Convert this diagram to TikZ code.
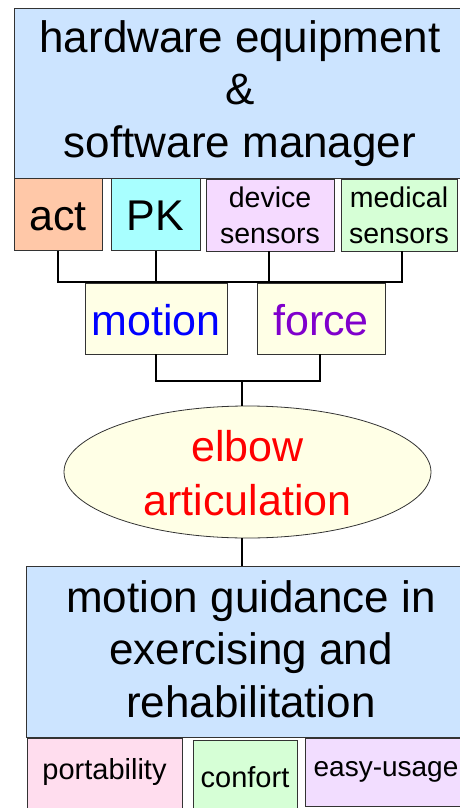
\documentclass[tikz,border=0pt]{standalone}
\usepackage{fontspec}
\setmainfont{Liberation Sans}
\usetikzlibrary{shapes.geometric}
\definecolor{panelblue}{HTML}{CCE4FF}
\definecolor{actfill}{HTML}{FFC8A8}
\definecolor{pkfill}{HTML}{A8FFFF}
\definecolor{lilac}{HTML}{F5DAFF}
\definecolor{mint}{HTML}{D6FFD6}
\definecolor{cream}{HTML}{FFFFE6}
\definecolor{pinkfill}{HTML}{FFDDEE}
\definecolor{easyfill}{HTML}{F2DDFF}
\definecolor{forcepurple}{HTML}{8000CC}
\begin{document}
\begin{tikzpicture}[x=1pt,y=-1pt,
  box/.style={draw=black!80, line width=0.8pt, rectangle, inner sep=0pt},
  wire/.style={line width=2pt, black},
  txt/.style={inner sep=0pt, anchor=base, align=center},
  big/.style={font=\fontsize{44}{52.5}\selectfont},
  mid/.style={font=\fontsize{43}{54}\selectfont},
  small/.style={font=\fontsize{28.5}{36}\selectfont},
]
\useasboundingbox (0,0) rectangle (460,808);

% top panel and its four components (text nodes sit on their last baseline)
\node[box, fill=panelblue, minimum width=452pt, minimum height=170pt] (hw) at (240,93) {};
\node[txt, big] (hwtext) at (240,157) {hardware equipment\\\&\\software manager};

\node[box, fill=actfill, minimum width=88pt, minimum height=72pt] (act) at (58,214.5) {};
\node[txt, mid] (acttext) at (act |- 0,230) {act};
\node[box, fill=pkfill, minimum width=89pt, minimum height=72pt] (pk) at (155.5,214.5) {};
\node[txt, mid] (pktext) at (pk |- 0,230) {PK};
\node[box, fill=lilac, minimum width=128pt, minimum height=72pt] (dev) at (270,215) {};
\node[txt, small] (devtext) at (dev |- 0,243) {device\\sensors};
\node[box, fill=mint, minimum width=116pt, minimum height=72pt] (med) at (399,215) {};
\node[txt, small] (medtext) at (med |- 0,243) {medical\\sensors};

% motion and force
\node[box, fill=cream, minimum width=142pt, minimum height=71pt] (motion) at (156,318.5) {};
\node[txt, mid, text=blue] (motiontext) at (motion |- 0,335) {motion};
\node[box, fill=cream, minimum width=128pt, minimum height=71pt] (force) at (321,318.5) {};
\node[txt, mid, text=forcepurple] (forcetext) at (force |- 0,335) {force};

% elbow joint
\node[ellipse, draw=black!80, line width=0.8pt, fill=cream, inner sep=0pt,
      minimum width=367pt, minimum height=132pt] (elbow) at (247.5,472) {};
\node[txt, mid, text=red] (elbowtext) at (247.5,515) {elbow\\articulation};

% bottom panel and its qualities
\node[box, fill=panelblue, minimum width=450pt, minimum height=170.5pt] (guide) at (251,652) {};
\node[txt, big] (guidetext) at (251,717) {motion guidance in\\exercising and\\rehabilitation};

\node[box, fill=pinkfill, minimum width=155pt, minimum height=77pt] (port) at (104.5,776.5) {};
\node[txt, font=\fontsize{29}{35}\selectfont] (porttext) at (port |- 0,779) {portability};
\node[box, fill=mint, minimum width=104pt, minimum height=75pt] (conf) at (245,777.5) {};
\node[txt, font=\fontsize{29}{35}\selectfont] (conftext) at (conf |- 0,787) {confort};
\node[box, fill=easyfill, minimum width=175pt, minimum height=68pt] (easy) at (392.5,772) {};
\node[txt, font=\fontsize{28}{34}\selectfont] (easytext) at (386,776) {easy-usage};

% connectors
\coordinate (busA) at (0,282);
\coordinate (join) at (242,381);
\draw[wire] (act.south) -- (act.south |- busA) -- ([xshift=3pt]med.south |- busA) -- ([xshift=3pt]med.south);
\draw[wire] (pk.south) -- (pk.south |- busA);
\draw[wire] ([xshift=-1pt]dev.south) -- ([xshift=-1pt]dev.south |- busA);
\draw[wire] (motion.south) |- (join) -| ([xshift=-1pt]force.south);
\draw[wire] (join) -- (join |- elbow.north);
\draw[wire] (join |- elbow.south) -- (join |- guide.north);
\end{tikzpicture}
\end{document}
